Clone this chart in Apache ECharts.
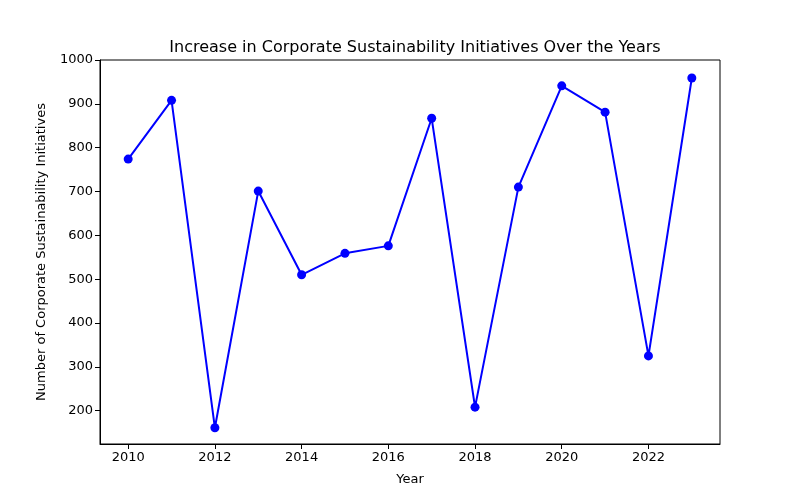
<!DOCTYPE html>
<html>
<head>
<meta charset="utf-8">
<script src="https://cdn.jsdelivr.net/npm/echarts@6/dist/echarts.min.js"></script>
<style>html,body{margin:0;padding:0;background:#fff}#c{width:800px;height:500px}</style>
</head>
<body>
<div id="c"></div>
<script>
const years = [2010, 2011, 2012, 2013, 2014, 2015, 2016, 2017, 2018, 2019, 2020, 2021, 2022, 2023];
const initiatives = [774, 908, 161, 701, 510, 559, 576, 867, 208, 710, 941, 881, 325, 959];
const xTicks = [2010, 2012, 2014, 2016, 2018, 2020, 2022];
const yTicks = [200, 300, 400, 500, 600, 700, 800, 900, 1000];

const font = 'DejaVu Sans';
const chart = echarts.init(document.getElementById('c'), null, {renderer: 'canvas'});
chart.setOption({
  animation: false,
  backgroundColor: '#ffffff',
  title: {
    text: 'Increase in Corporate Sustainability Initiatives Over the Years',
    left: 410, top: 35, textAlign: 'center',
    textStyle: {fontFamily: font, fontSize: 16, fontWeight: 'normal', color: '#000'}
  },
  grid: {left: 100, right: 80, top: 60, bottom: 56, show: true, borderColor: '#000', borderWidth: 1, backgroundColor: 'transparent'},
  xAxis: {
    type: 'value', min: 2009.35, max: 2023.65,
    name: 'Year', nameLocation: 'middle', nameGap: 29, nameMoveOverlap: false,
    nameTextStyle: {fontFamily: font, fontSize: 13, color: '#000'},
    axisLine: {show: true, lineStyle: {color: '#000', width: 1}},
    axisTick: {show: true, length: 5, inside: false, lineStyle: {color: '#000'}, customValues: xTicks},
    axisLabel: {show: true, fontFamily: font, fontSize: 13, color: '#000', margin: 7, customValues: xTicks, formatter: v => String(v)},
    splitLine: {show: false}
  },
  yAxis: {
    type: 'value', min: 124, max: 1000,
    name: 'Number of Corporate Sustainability Initiatives', nameLocation: 'middle', nameGap: 52, nameMoveOverlap: false,
    nameTextStyle: {fontFamily: font, fontSize: 13, color: '#000'},
    axisLine: {show: true, lineStyle: {color: '#000', width: 1}},
    axisTick: {show: true, length: 5, lineStyle: {color: '#000'}, customValues: yTicks},
    axisLabel: {show: true, fontFamily: font, fontSize: 13, color: '#000', margin: 7, customValues: yTicks, formatter: v => String(v)},
    splitLine: {show: false}
  },
  series: [{
    type: 'line',
    data: years.map((y, i) => [y, initiatives[i]]),
    symbol: 'circle', symbolSize: 9,
    lineStyle: {color: '#0000ff', width: 2},
    itemStyle: {color: '#0000ff'},
    z: 3
  }]
});
</script>
</body>
</html>
